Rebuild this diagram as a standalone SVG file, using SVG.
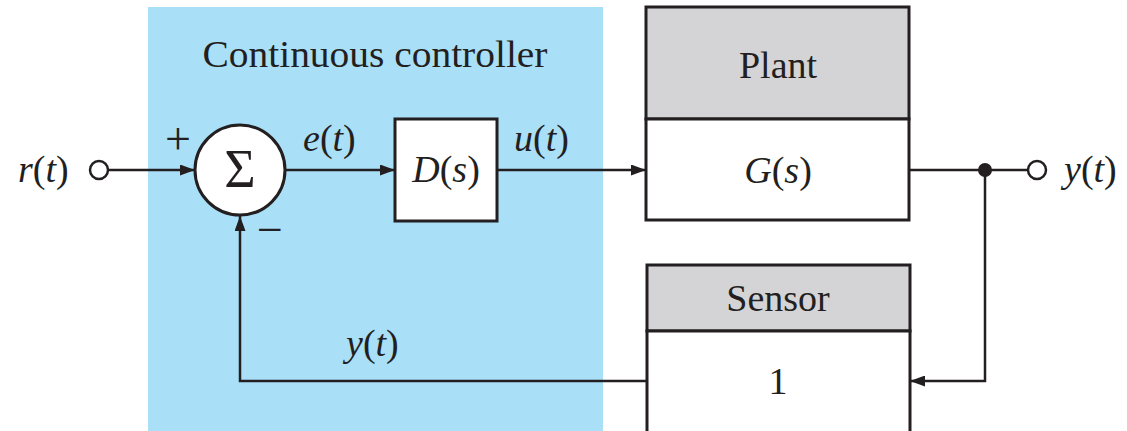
<svg xmlns="http://www.w3.org/2000/svg" width="1127" height="431" viewBox="0 0 1127 431">
<style>
.t{fill:#231f20;font-size:38px;font-family:"Liberation Serif",serif}
.i{font-style:italic}
.big{font-size:54px}
.sg{font-size:46px}
.box{fill:#fff;stroke:#231f20;stroke-width:3}
.hdr{fill:#d4d4d6;stroke:#231f20;stroke-width:3}
.ln{fill:none;stroke:#231f20;stroke-width:2.5}
</style>
<defs>
<marker id="ah" viewBox="0 0 15 11" refX="15" refY="5.5" markerWidth="15" markerHeight="11" markerUnits="userSpaceOnUse" orient="auto">
<path d="M0,0 L15,5.5 L0,11 z" fill="#231f20"/>
</marker>
</defs>
<rect x="0" y="0" width="1127" height="431" fill="#fff"/>
<g id="controller-region">
<rect x="148" y="7" width="455" height="424" fill="#aadff8"/>
<text class="t" x="375" y="67" text-anchor="middle" textLength="345" lengthAdjust="spacingAndGlyphs">Continuous controller</text>
</g>
<g id="connectors">
<line class="ln" x1="108" y1="170" x2="195" y2="170" marker-end="url(#ah)"/>
<line class="ln" x1="285" y1="170" x2="395" y2="170" marker-end="url(#ah)"/>
<line class="ln" x1="497" y1="170" x2="646" y2="170" marker-end="url(#ah)"/>
<line class="ln" x1="909" y1="170" x2="1028" y2="170"/>
<polyline class="ln" points="985,170 985,381 910,381" marker-end="url(#ah)"/>
<polyline class="ln" points="647,381 240,381 240,216" marker-end="url(#ah)"/>
<circle cx="985" cy="170" r="7" fill="#231f20"/>
</g>
<g id="input-r">
<circle cx="99" cy="170" r="9" fill="#fff" stroke="#231f20" stroke-width="2.5"/>
<text class="t" x="18" y="182"><tspan class="i">r</tspan>(<tspan class="i">t</tspan>)</text>
</g>
<g id="sum">
<circle cx="240" cy="170" r="45" fill="#fff" stroke="#231f20" stroke-width="3"/>
<text class="t big" x="240" y="187" text-anchor="middle">Σ</text>
<text class="t sg" x="178" y="154" text-anchor="middle">+</text>
<text class="t sg" x="270" y="245" text-anchor="middle">−</text>
</g>
<g id="label-e">
<text class="t" x="303" y="151"><tspan class="i">e</tspan>(<tspan class="i">t</tspan>)</text>
</g>
<g id="D">
<rect class="box" x="395" y="119" width="102" height="102"/>
<text class="t" x="446" y="182" text-anchor="middle"><tspan class="i">D</tspan>(<tspan class="i">s</tspan>)</text>
</g>
<g id="label-u">
<text class="t" x="514" y="151"><tspan class="i">u</tspan>(<tspan class="i">t</tspan>)</text>
</g>
<g id="plant">
<rect class="hdr" x="646" y="7" width="263" height="112"/>
<rect class="box" x="646" y="119" width="263" height="101"/>
<text class="t" x="778" y="78" text-anchor="middle">Plant</text>
<text class="t" x="778" y="183" text-anchor="middle"><tspan class="i">G</tspan>(<tspan class="i">s</tspan>)</text>
</g>
<g id="output-y">
<circle cx="1037" cy="170" r="9" fill="#fff" stroke="#231f20" stroke-width="2.5"/>
<text class="t" x="1064" y="182"><tspan class="i">y</tspan>(<tspan class="i">t</tspan>)</text>
</g>
<g id="sensor">
<rect class="hdr" x="647" y="265" width="263" height="66"/>
<rect class="box" x="647" y="331" width="263" height="110"/>
<text class="t" x="778" y="311" text-anchor="middle">Sensor</text>
<text class="t" x="778" y="394" text-anchor="middle">1</text>
</g>
<g id="label-y-feedback">
<text class="t" x="346" y="356"><tspan class="i">y</tspan>(<tspan class="i">t</tspan>)</text>
</g>
</svg>
